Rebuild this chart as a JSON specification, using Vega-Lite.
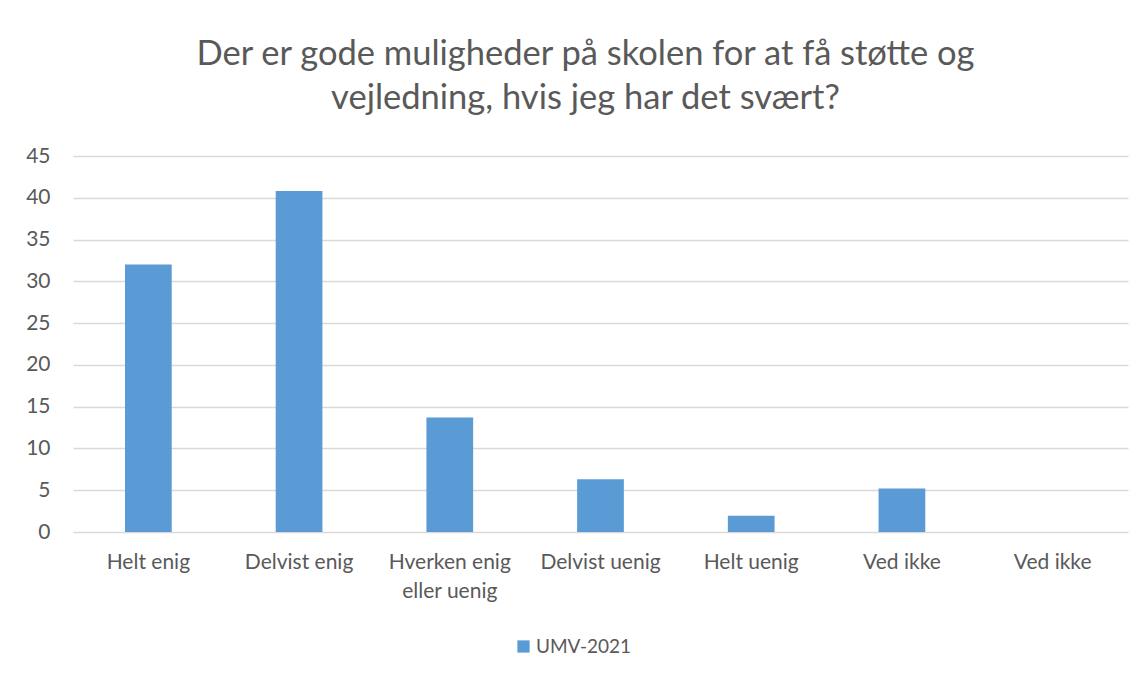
{
  "$schema": "https://vega.github.io/schema/vega-lite/v6.json",
  "autosize": "none",
  "width": 1055,
  "height": 376,
  "padding": {"left": 73, "top": 156, "right": 19, "bottom": 143},
  "background": "white",
  "title": {
    "text": ["Der er gode muligheder på skolen for at få støtte og", "vejledning, hvis jeg har det svært?"],
    "anchor": "middle",
    "frame": "group",
    "font": "Lato",
    "fontSize": 34.5,
    "fontWeight": "normal",
    "color": "#595959",
    "lineHeight": 44,
    "offset": 29,
    "dx": -15
  },
  "data": {
    "values": [
      {"svar": "Helt enig", "andel": 32.0, "serie": "UMV-2021"},
      {"svar": "Delvist enig", "andel": 40.8, "serie": "UMV-2021"},
      {"svar": "Hverken enig eller uenig", "andel": 13.7, "serie": "UMV-2021"},
      {"svar": "Delvist uenig", "andel": 6.3, "serie": "UMV-2021"},
      {"svar": "Helt uenig", "andel": 1.95, "serie": "UMV-2021"},
      {"svar": "Ved ikke", "andel": 5.2, "serie": "UMV-2021"},
      {"svar": "Ved ikke 2", "andel": 0, "serie": "UMV-2021"}
    ]
  },
  "mark": {"type": "bar"},
  "encoding": {
    "x": {
      "field": "svar",
      "type": "nominal",
      "sort": null,
      "scale": {"paddingInner": 0.69, "paddingOuter": 0.345},
      "axis": {
        "title": null,
        "labelAngle": 0,
        "domain": false,
        "ticks": false,
        "labelPadding": 19,
        "labelFont": "Lato",
        "labelFontSize": 21,
        "labelColor": "#595959",
        "labelLineHeight": 29,
        "labelBaseline": "top",
        "labelExpr": "datum.value == 'Hverken enig eller uenig' ? ['Hverken enig', 'eller uenig'] : replace(datum.value, ' 2', '')"
      }
    },
    "y": {
      "field": "andel",
      "type": "quantitative",
      "scale": {"domain": [0, 45]},
      "axis": {
        "title": null,
        "values": [0, 5, 10, 15, 20, 25, 30, 35, 40, 45],
        "domain": false,
        "ticks": false,
        "labelPadding": 23,
        "labelFont": "Lato",
        "labelFontSize": 21,
        "labelColor": "#595959",
        "gridColor": "#d9d9d9",
        "gridWidth": 1.3
      }
    },
    "color": {
      "field": "serie",
      "type": "nominal",
      "scale": {"range": ["#5b9bd5"]},
      "legend": {
        "title": null,
        "orient": "none",
        "legendX": 441,
        "legendY": 481,
        "symbolType": "square",
        "symbolSize": 150,
        "symbolStrokeWidth": 0,
        "labelFont": "Lato",
        "labelFontSize": 19,
        "labelColor": "#595959",
        "labelOffset": 3
      }
    }
  },
  "config": {
    "view": {"stroke": null}
  }
}
